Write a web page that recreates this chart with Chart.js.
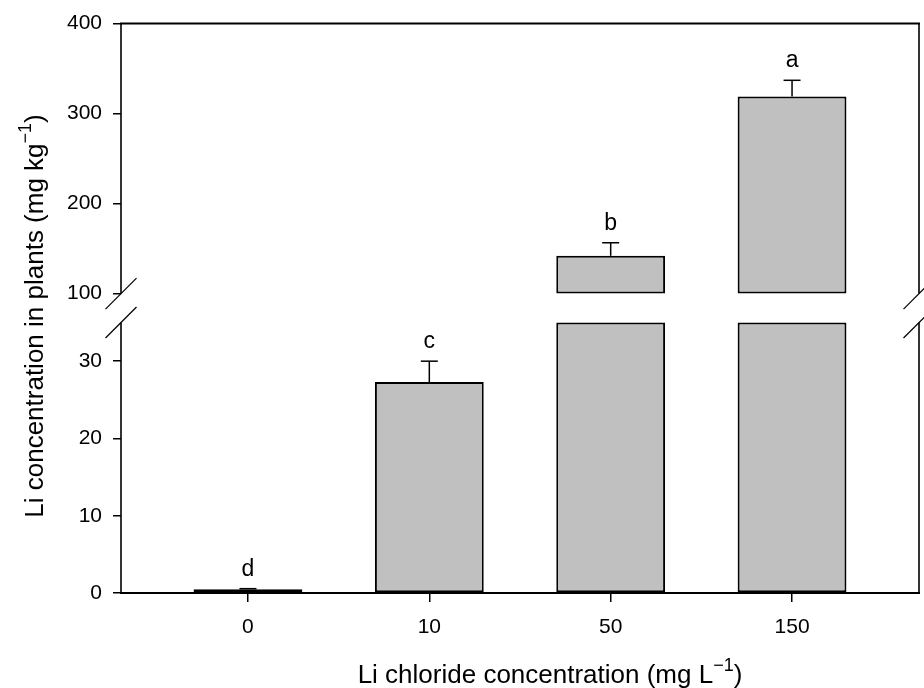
<!DOCTYPE html>
<html>
<head>
<meta charset="utf-8">
<script src="https://cdn.jsdelivr.net/npm/chart.js@4.4.1/dist/chart.umd.min.js"></script>
<style>
  html, body { margin: 0; padding: 0; background: #fff; }
</style>
</head>
<body>
<canvas id="liChart" width="924" height="688"></canvas>
<script>
// 데이터
const categories = ['0', '10', '50', '150'];
const means  = [0.48, 27.3, 142, 319];
const errors = [0.08, 2.7, 14.5, 18];
const letters = ['d', 'c', 'b', 'a'];
const yTicks = [0, 10, 20, 30, 100, 200, 300, 400];
const lowRange  = [0, 35];     // 아래 구간
const highRange = [100, 400];  // 위 구간
const xTitle = ['Li chloride concentration (mg L', '\u22121', ')'];
const yTitle = ['Li concentration in plants (mg kg', '\u22121', ')'];

const FONT = '"Liberation Sans", Arial, sans-serif';

// 끊어진 y축: 아래 구간 / 틈 / 위 구간
class BrokenLinearScale extends Chart.LinearScale {
  _segs() {
    const h = this.bottom - this.top;
    const lowTop = this.bottom - h * this.options.lowFrac;
    const highBottom = lowTop - h * this.options.gapFrac;
    return { lowTop, highBottom };
  }
  getPixelForValue(v) {
    const { lowTop, highBottom } = this._segs();
    if (v <= lowRange[1]) {
      return this.bottom - (v - lowRange[0]) / (lowRange[1] - lowRange[0]) * (this.bottom - lowTop);
    }
    if (v >= highRange[0]) {
      return highBottom - (v - highRange[0]) / (highRange[1] - highRange[0]) * (highBottom - this.top);
    }
    return lowTop - (v - lowRange[1]) / (highRange[0] - lowRange[1]) * (lowTop - highBottom);
  }
  getValueForPixel(p) {
    const { lowTop, highBottom } = this._segs();
    if (p >= lowTop) {
      return lowRange[0] + (this.bottom - p) / (this.bottom - lowTop) * (lowRange[1] - lowRange[0]);
    }
    if (p <= highBottom) {
      return highRange[0] + (highBottom - p) / (highBottom - this.top) * (highRange[1] - highRange[0]);
    }
    return lowRange[1] + (lowTop - p) / (lowTop - highBottom) * (highRange[0] - lowRange[1]);
  }
}
BrokenLinearScale.id = 'brokenLinear';
BrokenLinearScale.defaults = Chart.LinearScale.defaults;
Chart.register(BrokenLinearScale);

function line(ctx, x1, y1, x2, y2) {
  ctx.beginPath();
  ctx.moveTo(x1, y1);
  ctx.lineTo(x2, y2);
  ctx.stroke();
}

// 테두리 + 축 끊김 표시
const framePlugin = {
  id: 'frame',
  afterDatasetsDraw(chart) {
    const { ctx, chartArea: a, scales: { y } } = chart;
    const gapLow = y.getPixelForValue(lowRange[1]);
    const gapHigh = y.getPixelForValue(highRange[0]);
    ctx.save();
    ctx.strokeStyle = '#000';
    ctx.lineWidth = 2;
    line(ctx, a.left - 1, a.top, a.right + 1, a.top);
    line(ctx, a.left - 1, a.bottom, a.right + 1, a.bottom);
    [a.left, a.right].forEach(x => {
      ctx.lineWidth = 1.6;
      line(ctx, x, a.top, x, gapHigh);
      line(ctx, x, gapLow, x, a.bottom);
      ctx.lineWidth = 1.2;
      [gapHigh, gapLow].forEach(g => line(ctx, x - 15.5, g + 15.5, x + 15.5, g - 15.5));
    });
    ctx.restore();
  }
};

// 오차 막대 + 유의성 문자
const errorBarPlugin = {
  id: 'errorBars',
  afterDatasetsDraw(chart) {
    const { ctx, scales: { x, y } } = chart;
    ctx.save();
    ctx.strokeStyle = '#000';
    ctx.fillStyle = '#000';
    ctx.lineWidth = 1.5;
    ctx.font = '23px ' + FONT;
    ctx.textAlign = 'center';
    ctx.textBaseline = 'alphabetic';
    means.forEach((m, i) => {
      const px = x.getPixelForValue(i);
      const yBar = y.getPixelForValue(m);
      const yErr = y.getPixelForValue(m + errors[i]);
      line(ctx, px, yBar, px, yErr);
      line(ctx, px - 8.5, yErr, px + 8.5, yErr);
      ctx.fillText(letters[i], px, yErr - 13);
    });
    ctx.restore();
  }
};

// 위첨자 있는 축 제목
function drawSupText(ctx, parts, cx, cy, rot) {
  const main = '26px ' + FONT, sup = '18px ' + FONT;
  ctx.save();
  ctx.translate(cx, cy);
  ctx.rotate(rot);
  ctx.fillStyle = '#000';
  ctx.textAlign = 'left';
  ctx.textBaseline = 'alphabetic';
  const widths = parts.map((t, i) => { ctx.font = i === 1 ? sup : main; return ctx.measureText(t).width; });
  let x = -widths.reduce((s, w) => s + w, 0) / 2;
  parts.forEach((t, i) => {
    ctx.font = i === 1 ? sup : main;
    ctx.fillText(t, x, i === 1 ? -12 : 0);
    x += widths[i];
  });
  ctx.restore();
}

const titlePlugin = {
  id: 'titles',
  afterDraw(chart) {
    const ctx = chart.ctx;
    drawSupText(ctx, xTitle, 550, 683, 0);
    drawSupText(ctx, yTitle, 43, 316, -Math.PI / 2);
  }
};

const lowerBars = means.map((v, i) => ({ x: i, y: [lowRange[0], Math.min(v, lowRange[1])] }));
const upperBars = means.map((v, i) => ({ x: i, y: v > highRange[0] ? [highRange[0], v] : null }));

const barStyle = {
  backgroundColor: '#c0c0c0',
  borderColor: '#000',
  borderWidth: 2,
  borderSkipped: false,
  grouped: false,
  categoryPercentage: 1,
  barPercentage: 0.6
};

new Chart(document.getElementById('liChart').getContext('2d'), {
  type: 'bar',
  data: {
    datasets: [
      Object.assign({ label: 'low', data: lowerBars }, barStyle),
      Object.assign({ label: 'high', data: upperBars }, barStyle)
    ]
  },
  options: {
    responsive: false,
    animation: false,
    layout: { padding: { left: 0, top: 22, right: 5, bottom: 0 } },
    scales: {
      x: {
        type: 'linear',
        min: -0.7,
        max: 3.7,
        offset: false,
        afterBuildTicks: s => { s.ticks = categories.map((c, i) => ({ value: i })); },
        afterFit: s => { s.height = 95; },
        ticks: {
          autoSkip: false,
          color: '#000',
          font: { family: FONT, size: 21 },
          padding: 13,
          callback: v => categories[v]
        },
        grid: { offset: false, drawOnChartArea: false, color: '#000', lineWidth: 1.5, tickLength: 9 },
        border: { display: false }
      },
      y: {
        type: 'brokenLinear',
        min: 0,
        max: 400,
        lowFrac: 0.475,
        gapFrac: 0.0508,
        afterBuildTicks: s => { s.ticks = yTicks.map(v => ({ value: v })); },
        afterFit: s => { s.width = 121; },
        ticks: {
          autoSkip: false,
          color: '#000',
          font: { family: FONT, size: 21 },
          padding: 11
        },
        grid: { drawOnChartArea: false, color: '#000', lineWidth: 1.5, tickLength: 8 },
        border: { display: false }
      }
    },
    plugins: {
      legend: { display: false },
      tooltip: { enabled: false }
    }
  },
  plugins: [framePlugin, errorBarPlugin, titlePlugin]
});
</script>
</body>
</html>
